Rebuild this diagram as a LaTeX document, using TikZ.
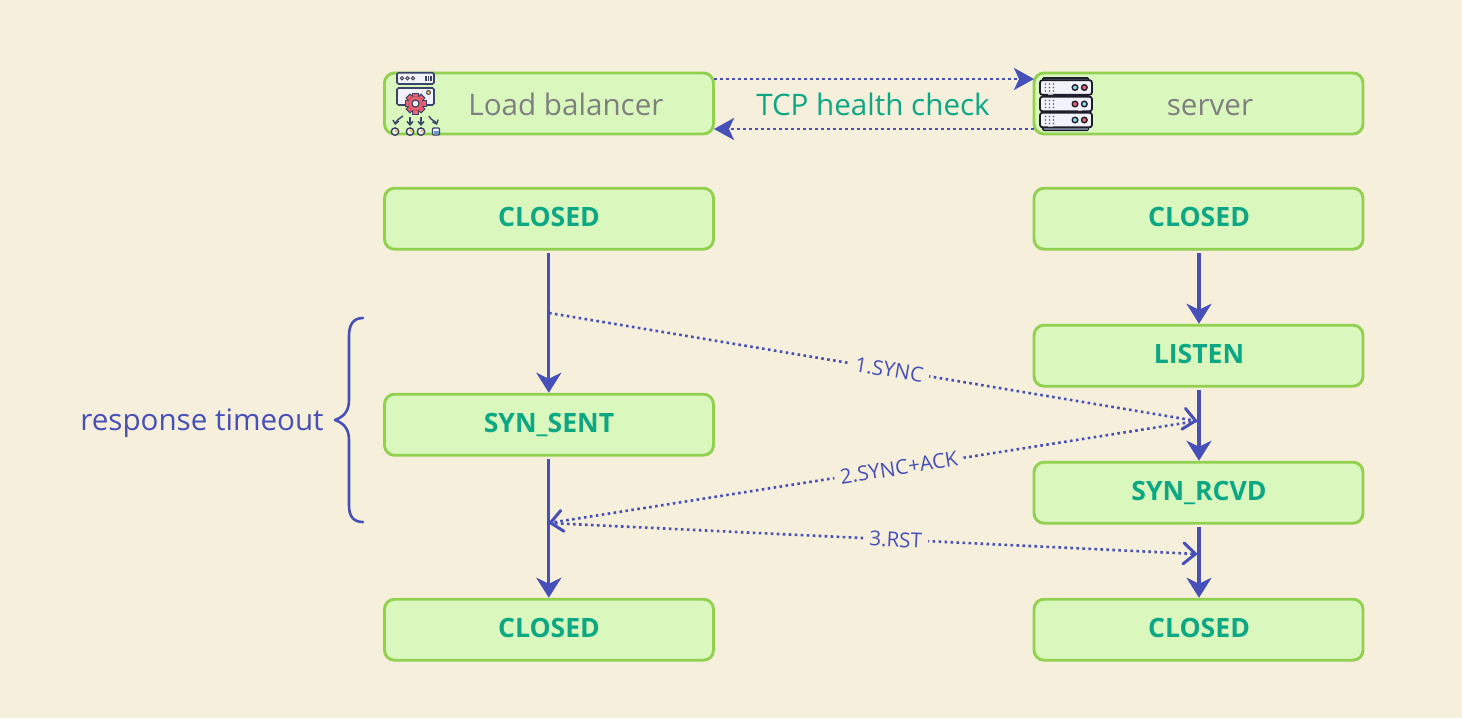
\documentclass[tikz,border=0pt]{standalone}
\usepackage{fontspec}
\setmainfont{Open Sans}
\usetikzlibrary{arrows.meta,positioning}
\definecolor{bgc}{HTML}{F6EFDC}
\definecolor{boxf}{HTML}{DAF7BE}
\definecolor{boxd}{HTML}{92D050}
\definecolor{teal}{HTML}{0BA883}
\definecolor{blu}{HTML}{4750B8}
\definecolor{gry}{HTML}{7F7F7F}
\definecolor{ink}{HTML}{3A4468}
\definecolor{ink2}{HTML}{1E1E2C}
\definecolor{panel}{HTML}{F2F2FA}
\definecolor{redd}{HTML}{F0606C}
\definecolor{yel}{HTML}{F2BE50}
\definecolor{cya}{HTML}{8FDCE6}
\tikzset{
  x=1pt,y=-1pt,
  statebox/.style={draw=boxd,fill=boxf,line width=2.9pt,rounded corners=10pt,minimum width=329pt,minimum height=61pt,inner sep=0pt,anchor=center},
  statetxt/.style={text=teal,font=\fontsize{26.6}{30}\selectfont\bfseries,anchor=base},
  headtxt/.style={text=gry,font=\fontsize{29.6}{34}\selectfont,anchor=base},
  flow/.style={draw=blu,line width=3.2pt,-{Stealth[length=20pt,width=25pt,inset=6pt]}},
  ping/.style={draw=blu,line width=2.8pt,dash pattern=on 2.6pt off 3.4pt,-{Stealth[length=20pt,width=22pt,inset=5pt]}},
  msg/.style={draw=blu,line width=2.6pt,dash pattern=on 2.6pt off 3.4pt,-{Straight Barb[length=12pt,width=21pt,line width=3pt,round]}},
  msgtxt/.style={text=blu,fill=bgc,inner xsep=6pt,inner ysep=3pt,sloped,font=\fontsize{20.6}{24}\selectfont},
  srv/.style={draw=ink2,fill=panel,line width=1.8pt,rounded corners=2.5pt},
  ic/.style={draw=ink,line width=1.6pt},
  lbarrow/.style={draw=ink,line width=1.4pt,-{Straight Barb[length=3.5pt,width=6pt]}},
}
\begin{document}
\begin{tikzpicture}
\useasboundingbox[fill=bgc] (0,0) rectangle (1462,718);
% boxes
\node[statebox] (lb) at (549,103.5) {};
\node[statebox] (sv) at (1198.5,103.5) {};
\node[statebox] (c1) at (549,218.7) {};
\node[statebox] (c2) at (1198.5,218.7) {};
\node[statebox] (li) at (1198.5,355.7) {};
\node[statebox] (ss) at (549,424.7) {};
\node[statebox] (sr) at (1198.5,492.7) {};
\node[statebox] (c3) at (549,629.7) {};
\node[statebox] (c4) at (1198.5,629.7) {};
\node[statetxt] (c1t) at (549,226) {CLOSED};
\node[statetxt] (c2t) at (1199,226) {CLOSED};
\node[statetxt] (lit) at (1199,363) {LISTEN};
\node[statetxt] (sst) at (549,432) {SYN\_SENT};
\node[statetxt] (srt) at (1199,500) {SYN\_RCVD};
\node[statetxt] (c3t) at (549,637) {CLOSED};
\node[statetxt] (c4t) at (1199,637) {CLOSED};
\node[headtxt] (lbt) at (566,115) {Load balancer};
\node[headtxt] (svt) at (1210,115) {server};
% top arrows
\coordinate (ta) at (714,79);
\coordinate (tb) at (1034,79);
\coordinate (tc) at (1034,129);
\coordinate (td) at (714,129);
\draw[ping] (ta) -- (tb);
\draw[ping] (tc) -- (td);
\node[text=teal,font=\fontsize{29.6}{34}\selectfont,anchor=base] (hc) at (873,115) {TCP health check};
% state flows
\coordinate (a1) at (548.8,253);
\coordinate (a2) at (548.8,459);
\coordinate (b1) at (1199,253);
\coordinate (b2) at (1199,390);
\coordinate (b3) at (1199,527);
\draw[flow] (a1) -- (ss.north -| a1);
\draw[flow] (a2) -- (c3.north -| a2);
\draw[flow] (b1) -- (li.north -| b1);
\draw[flow] (b2) -- (sr.north -| b2);
\draw[flow] (b3) -- (c4.north -| b3);
% messages
\coordinate (m1) at (549,313);
\coordinate (m2) at (1197,421);
\coordinate (m3) at (549,523);
\coordinate (m4) at (1197,554);
\draw[msg] (m1) -- node[msgtxt,pos=.525] (l1) {1.SYNC} (m2);
\draw[msg] (m2) -- node[msgtxt,pos=.46] (l2) {2.SYNC+ACK} (m3);
\draw[msg] (m3) -- node[msgtxt,pos=.535] (l3) {3.RST} (m4);
% brace
\coordinate (br1) at (363,318);
\coordinate (br2) at (363,522);
\coordinate (brt) at (335,420);
\draw[blu,line width=2.6pt,line cap=round,line join=round] (br1) .. controls (353,318) and (349,325) .. (349,336) -- (349,400) .. controls (349,412) and (343,417) .. (brt) .. controls (343,423) and (349,428) .. (349,440) -- (349,505) .. controls (349,516) and (353,522) .. (br2);
\node[text=blu,font=\fontsize{29.6}{34}\selectfont,anchor=base] (rt) at (202,430) {response timeout};
% load balancer icon
\begin{scope}
\draw[ic,fill=panel,rounded corners=1.5pt] (397,72.7) rectangle (434,84);
\foreach \x in {402,407.5,413} \fill[yel,draw=ink,line width=.9pt] (\x,78.3) circle (1.8);
\foreach \x in {426,428.5,431} \draw[ink,line width=1.2pt] (\x,75.5) -- (\x,81);
\draw[ic,fill=panel,rounded corners=1.5pt] (397,88) rectangle (434,105);
\fill[yel,draw=ink,line width=.9pt] (428.5,92.5) circle (2);
\foreach \a in {0,45,...,315} \fill[redd,draw=ink,line width=1pt,rotate around={\a:(415.5,103.5)}] (412.7,93) rectangle (418.3,98);
\fill[redd,draw=ink,line width=.1pt] (415.5,103.5) circle (7.4);
\fill[panel,draw=ink,line width=1.2pt] (415.5,103.5) circle (3.6);
\draw[lbarrow] (403,116) .. controls (399,119) and (396,120) .. (395,125);
\draw[lbarrow] (410,117) -- (410,126);
\draw[lbarrow] (421,117) -- (421,126);
\draw[lbarrow] (429,116) .. controls (431,121) and (435,120) .. (437,125);
\foreach \x in {395,410,421} {\fill[panel,draw=ink,line width=1.4pt] (\x,131.6) circle (3.7); \fill[yel] (\x,131.6) ++(0,.3) -- ++(2.8,0) arc (0:-90:2.8) -- cycle;}
\draw[ink,line width=1.3pt,fill=panel,rounded corners=1pt] (432.5,128) rectangle (439.5,135);
\fill[cya!50!blu] (433.5,130.5) rectangle (438.5,134);
\end{scope}
% server icon
\begin{scope}
\fill[ink2,rounded corners=1.5pt] (1042,77) rectangle (1089,131);
\fill[ink!70] (1043.5,78.5) rectangle (1087.5,80);
\fill[ink!70] (1043.5,128) rectangle (1087.5,129.5);
\foreach \y/\ca/\cb in {87.5/cya/redd,104/redd/cya,120/cya/redd}{
  \draw[srv] (1040,\y-7.3) rectangle (1092,\y+7.3);
  \foreach \xx in {1045.5,1049.5,1053.5} \foreach \yy in {-3.5,0,3.5} \fill[ink2!70] (\xx,\y+\yy) circle (.85);
  \fill[\ca,draw=ink2,line width=1.4pt] (1075,\y) circle (2.8);
  \fill[\cb,draw=ink2,line width=1.4pt] (1084.3,\y) circle (2.8);
}
\fill[gray!50] (1048,93.6) rectangle (1053,94.8);
\fill[gray!50] (1078,110) rectangle (1082,111.2);
\fill[gray!50] (1048,126) rectangle (1053,127.2);
\end{scope}
\end{tikzpicture}
\end{document}
